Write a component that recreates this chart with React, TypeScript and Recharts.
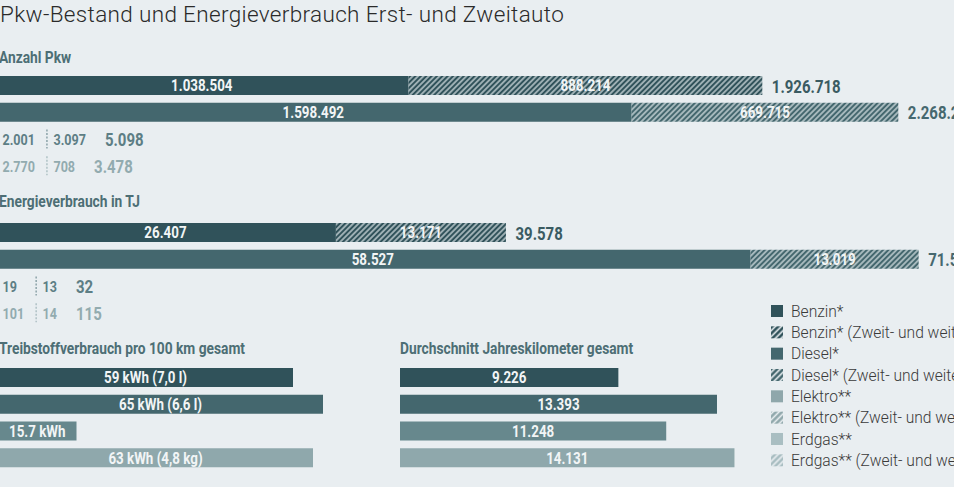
import { BarChart, Bar, XAxis, YAxis, Cell, LabelList } from "recharts";

// Werte aus der Grafik
const kategorien = ["Benzin", "Diesel", "Elektro", "Erdgas"];
const pkwErst = [1038504, 1598492, 2001, 2770];
const pkwWeitere = [888214, 669715, 3097, 708];
const energieErst = [26407, 58527, 19, 101];
const energieWeitere = [13171, 13019, 13, 14];
const verbrauchKwh = [59, 65, 15.7, 63];
const verbrauchTexte = ["59 kWh (7,0 l)", "65 kWh (6,6 l)", "15.7 kWh", "63 kWh (4,8 kg)"];
const jahresKm = [9226, 13393, 11248, 14131];
const legendeTexte = [
  "Benzin*",
  "Benzin* (Zweit- und weitere Pkw)",
  "Diesel*",
  "Diesel* (Zweit- und weitere Pkw)",
  "Elektro**",
  "Elektro** (Zweit- und weitere Pkw)",
  "Erdgas**",
  "Erdgas** (Zweit- und weitere Pkw)",
];

// Achsen
const PKW_MAX = 2511000;
const ENERGIE_MAX = 77460;
const VERBRAUCH_MAX = 80;
const KM_MAX = 16900;
const BESTAND_LINKS = -5.5;

const HINTERGRUND = "#e9eef1";
const FARBEN = ["#30525a", "#44676e", "#67888d", "#8fa8ac"];
const LEGENDE_FARBEN = ["#30525a", "#44676e", "#8fa7ab", "#a9bec2"];
const SUMME_FARBEN = ["#3a5b62", "#46686f", "#5d7e85", "#92abaf"];
const TITEL_FARBE = "#4d6e75";
const SCHMAL = "Roboto, 'Noto Sans', sans-serif";
const STRECKUNG = 0.81;
const DUENN = "Roboto, 'Noto Sans', sans-serif";

const fmt = (n: number) => String(n).replace(/\B(?=(\d{3})+(?!\d))/g, ".");

let ctx: CanvasRenderingContext2D | null = null;
function textBreite(t: string, size: number) {
  if (!ctx) ctx = document.createElement("canvas").getContext("2d");
  if (!ctx) return t.length * size * 0.45;
  ctx.font = `bold ${size}px ${SCHMAL}`;
  return ctx.measureText(t).width * STRECKUNG;
}

// fetter, schmaler Text (horizontal gestaucht)
function SchmalText({
  x, y, size, fill, anchor = "start", central = true, children,
}: {
  x: number; y: number; size: number; fill: string; anchor?: "start" | "middle" | "end"; central?: boolean; children: any;
}) {
  return (
    <text
      transform={`translate(${x} ${y}) scale(${STRECKUNG} 1)`}
      textAnchor={anchor}
      dominantBaseline={central ? "central" : undefined}
      fontFamily={SCHMAL}
      fontWeight={700}
      fontSize={size}
      fill={fill}
    >
      {children}
    </text>
  );
}

function bestandZeilen(erst: number[], weitere: number[], max: number) {
  return kategorien.map((name, i) => {
    const gesamt = erst[i] + weitere[i];
    return { name, erst: erst[i], weitere: weitere[i], gesamt, klein: gesamt < max / 100 };
  });
}

const pkwZeilen = bestandZeilen(pkwErst, pkwWeitere, PKW_MAX);
const energieZeilen = bestandZeilen(energieErst, energieWeitere, ENERGIE_MAX);

const verbrauchZeilen = kategorien.map((name, i) => ({
  name,
  wert: verbrauchKwh[i],
  text: verbrauchTexte[i],
}));
const kmZeilen = kategorien.map((name, i) => ({ name, wert: jahresKm[i], text: fmt(jahresKm[i]) }));

type Zeile = ReturnType<typeof bestandZeilen>[number];

function mitteLabel(texte: string[]) {
  return (props: any) => {
    const { viewBox, index } = props;
    const t = texte[index];
    if (!t || !viewBox || viewBox.width < 1) return null;
    return (
      <SchmalText x={viewBox.x + viewBox.width / 2} y={viewBox.y + viewBox.height / 2 + 0.5}
        anchor="middle" size={16.5} fill="#f2f5f6">
        {t}
      </SchmalText>
    );
  };
}

// Summe rechts neben dem Balken; kleine Werte als Textzeile "erst ¦ weitere  gesamt"
function summenLabel(zeilen: Zeile[]) {
  const start = 2 - BESTAND_LINKS;
  const klein = zeilen.filter((z) => z.klein);
  const breiteste = Math.max(...klein.map((z) => textBreite(fmt(z.erst), 15.5)));
  const trenner = start + breiteste + 12;
  const zweite = trenner + 6.5;
  return (props: any) => {
    const { viewBox, index } = props;
    const z = zeilen[index];
    if (!z || !viewBox) return null;
    const cy = viewBox.y + viewBox.height / 2 + 0.5;
    const farbe = SUMME_FARBEN[index];
    if (!z.klein) {
      return (
        <SchmalText x={viewBox.x + viewBox.width + 9.5} y={cy} size={18.5} fill={farbe}>
          {fmt(z.gesamt)}
        </SchmalText>
      );
    }
    const summeX = zweite + textBreite(fmt(z.weitere), 15.5) + 19;
    return (
      <g>
        <SchmalText x={start} y={cy} size={15.5} fill={farbe}>{fmt(z.erst)}</SchmalText>
        <line x1={trenner} x2={trenner} y1={viewBox.y} y2={viewBox.y + viewBox.height}
          stroke={farbe} strokeWidth={1} strokeDasharray="2 1.5" />
        <SchmalText x={zweite} y={cy} size={15.5} fill={farbe}>{fmt(z.weitere)}</SchmalText>
        <SchmalText x={summeX} y={cy} size={18.5} fill={farbe}>{fmt(z.gesamt)}</SchmalText>
      </g>
    );
  };
}

function BestandChart({ zeilen, max, top }: { zeilen: Zeile[]; max: number; top: number }) {
  return (
    <div style={{ position: "absolute", left: BESTAND_LINKS, top }}>
      <BarChart
        width={1000}
        height={107}
        data={zeilen}
        layout="vertical"
        margin={{ top: 0, right: 0, bottom: 0, left: 0 }}
        barSize={19}
      >
        <XAxis type="number" domain={[0, max]} allowDataOverflow hide />
        <YAxis type="category" dataKey="name" hide />
        <Bar dataKey="erst" stackId="s" isAnimationActive={false}>
          {zeilen.map((z, i) => (
            <Cell key={z.name} fill={FARBEN[i]} />
          ))}
          <LabelList content={mitteLabel(zeilen.map((z) => (z.klein ? "" : fmt(z.erst))))} />
        </Bar>
        <Bar dataKey="weitere" stackId="s" isAnimationActive={false}>
          {zeilen.map((z, i) => (
            <Cell key={z.name} fill={`url(#schraffur-${i})`} />
          ))}
          <LabelList content={mitteLabel(zeilen.map((z) => (z.klein ? "" : fmt(z.weitere))))} />
          <LabelList content={summenLabel(zeilen)} />
        </Bar>
      </BarChart>
    </div>
  );
}

function EinfachChart({ zeilen, max, left }: { zeilen: { name: string; wert: number; text: string }[]; max: number; left: number }) {
  return (
    <div style={{ position: "absolute", left, top: 364 }}>
      <BarChart
        width={400}
        height={107}
        data={zeilen}
        layout="vertical"
        margin={{ top: 0, right: 0, bottom: 0, left: 0 }}
        barSize={19}
      >
        <XAxis type="number" domain={[0, max]} allowDataOverflow hide />
        <YAxis type="category" dataKey="name" hide />
        <Bar dataKey="wert" isAnimationActive={false}>
          {zeilen.map((z, i) => (
            <Cell key={z.name} fill={FARBEN[i]} />
          ))}
          <LabelList content={mitteLabel(zeilen.map((z) => z.text))} />
        </Bar>
      </BarChart>
    </div>
  );
}

function Schraffur({ id, farbe, abstand, strich, linie }: { id: string; farbe: string; abstand: number; strich: number; linie: string }) {
  return (
    <pattern id={id} patternUnits="userSpaceOnUse" width={abstand} height={abstand} patternTransform="rotate(45)">
      <rect width={abstand} height={abstand} fill={farbe} />
      <line x1={abstand / 2} y1={0} x2={abstand / 2} y2={abstand} stroke={linie} strokeWidth={strich} />
    </pattern>
  );
}

export default function App() {
  return (
    <div
      style={{
        position: "absolute",
        left: 0,
        top: 0,
        width: 954,
        height: 487,
        overflow: "hidden",
        background: HINTERGRUND,
      }}
    >
      <svg width={954} height={487} style={{ position: "absolute", left: 0, top: 0 }}>
        <defs>
          {FARBEN.map((f, i) => (
            <Schraffur key={i} id={`schraffur-${i}`} farbe={f} abstand={3.8} strich={1.15} linie="#e6eef0" />
          ))}
          {LEGENDE_FARBEN.map((f, i) => (
            <Schraffur key={i} id={`legende-${i}`} farbe={f} abstand={4.2} strich={1.6} linie="#e9eef1" />
          ))}
        </defs>
        <text x={0} y={22} fontFamily={DUENN} fontWeight={300} fontSize={22.5} letterSpacing={0.35} fill="#2a2a2a">
          Pkw-Bestand und Energieverbrauch Erst- und Zweitauto
        </text>
        <SchmalText x={-1} y={63} size={17} fill={TITEL_FARBE} central={false}>Anzahl Pkw</SchmalText>
        <SchmalText x={-1} y={207} size={17} fill={TITEL_FARBE} central={false}>Energieverbrauch in TJ</SchmalText>
        <SchmalText x={-1} y={353.5} size={17} fill={TITEL_FARBE} central={false}>
          Treibstoffverbrauch pro 100 km gesamt
        </SchmalText>
        <SchmalText x={400} y={353.5} size={17} fill={TITEL_FARBE} central={false}>
          Durchschnitt Jahreskilometer gesamt
        </SchmalText>
        <g fontFamily={DUENN} fontWeight={300} fontSize={15.6} fill="#3a3a3a">
          {legendeTexte.map((t, i) => {
            const y = 305 + i * 21.33;
            const k = Math.floor(i / 2);
            return (
              <g key={t}>
                <rect x={771} y={y} width={12} height={12}
                  fill={i % 2 === 0 ? LEGENDE_FARBEN[k] : `url(#legende-${k})`} />
                <text x={791} y={y + 11.7}>{t}</text>
              </g>
            );
          })}
        </g>
      </svg>
      <BestandChart zeilen={pkwZeilen} max={PKW_MAX} top={72} />
      <BestandChart zeilen={energieZeilen} max={ENERGIE_MAX} top={219} />
      <EinfachChart zeilen={verbrauchZeilen} max={VERBRAUCH_MAX} left={-2.3} />
      <EinfachChart zeilen={kmZeilen} max={KM_MAX} left={400} />
    </div>
  );
}
